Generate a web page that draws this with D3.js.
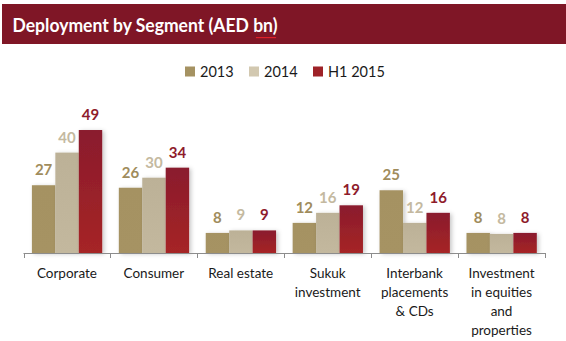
<!DOCTYPE html>
<html>
<head>
<meta charset="utf-8">
<script src="https://cdn.jsdelivr.net/npm/d3@7"></script>
<style>
  html, body { margin: 0; padding: 0; background: #fff; }
  svg { display: block; font-family: Lato, "Open Sans", sans-serif; }
</style>
</head>
<body>
<svg id="chart" width="566" height="341"></svg>
<script>
const title = "Deployment by Segment (AED bn)";
const categories = [
  ["Corporate"],
  ["Consumer"],
  ["Real estate"],
  ["Sukuk", "investment"],
  ["Interbank", "placements", "& CDs"],
  ["Investment", "in equities", "and", "properties"]
];
const seriesNames = ["2013", "2014", "H1 2015"];
const values2013 = [27, 26, 8, 12, 25, 8];
const values2014 = [40, 30, 9, 16, 12, 7.6];
const valuesH12015 = [49, 34, 9, 19, 16, 8];
const labels2013 = ["27", "26", "8", "12", "25", "8"];
const labels2014 = ["40", "30", "9", "16", "12", "8"];
const labelsH12015 = ["49", "34", "9", "19", "16", "8"];

const seriesValues = [values2013, values2014, valuesH12015];
const seriesLabels = [labels2013, labels2014, labelsH12015];
const labelColors = ["#a08c5c", "#c4b9a0", "#8e1b2b"];
const legendColors = ["#a59262", "#d2c8b0", "#9e2228"];

const svg = d3.select("#chart");
const defs = svg.append("defs");

const g0 = defs.append("linearGradient").attr("id", "grad0").attr("x1", 0).attr("y1", 0).attr("x2", 0).attr("y2", 1);
g0.append("stop").attr("offset", "0%").attr("stop-color", "#a59262");
g0.append("stop").attr("offset", "100%").attr("stop-color", "#a69363");
const g1 = defs.append("linearGradient").attr("id", "grad1").attr("x1", 0).attr("y1", 0).attr("x2", 0).attr("y2", 1);
g1.append("stop").attr("offset", "0%").attr("stop-color", "#bcb197");
g1.append("stop").attr("offset", "100%").attr("stop-color", "#c3b89e");
const g2 = defs.append("linearGradient").attr("id", "grad2").attr("x1", 0).attr("y1", 0).attr("x2", 0).attr("y2", 1);
g2.append("stop").attr("offset", "0%").attr("stop-color", "#8a1b2e");
g2.append("stop").attr("offset", "100%").attr("stop-color", "#a62525");
const fills = ["url(#grad0)", "url(#grad1)", "url(#grad2)"];

const shadow = defs.append("filter").attr("id", "shadow").attr("x", "-30%").attr("y", "-30%").attr("width", "160%").attr("height", "160%");
shadow.append("feDropShadow").attr("dx", 2).attr("dy", 1).attr("stdDeviation", 2)
  .attr("flood-color", "#000").attr("flood-opacity", 0.22);

// Title band
svg.append("rect").attr("x", 2).attr("y", 4).attr("width", 564).attr("height", 40).attr("fill", "#7f1626");
const titleText = svg.append("text").attr("x", 12.5).attr("y", 31.5)
  .attr("fill", "#fff").attr("font-weight", 700).attr("font-size", 18)
  .text(title);
titleText.attr("textLength", 265).attr("lengthAdjust", "spacingAndGlyphs");
// spell-check squiggle under "bn"
(function () {
  const x0 = 256, x1 = 276, yq = 37;
  let d = `M${x0},${yq}`;
  for (let x = x0; x < x1; x += 2) d += ` L${x + 1},${yq + 1.2} L${x + 2},${yq}`;
  svg.append("path").attr("d", d).attr("fill", "none").attr("stroke", "#e8222a").attr("stroke-width", 1);
})();

// Scales
const x = d3.scaleBand().domain(d3.range(categories.length)).range([23.5, 545]).padding(0);
const x1 = d3.scaleBand().domain(d3.range(seriesNames.length)).range([8.4, x.bandwidth() - 8.2]).padding(0);
const y = d3.scaleLinear().domain([0, 50]).range([253, 127.5]);

// Bars
const groups = svg.append("g").selectAll("g").data(categories).join("g")
  .attr("transform", (d, i) => `translate(${x(i)},0)`);

seriesNames.forEach((s, si) => {
  groups.append("rect")
    .attr("x", (d, i) => x1(si))
    .attr("y", (d, i) => y(seriesValues[si][i]))
    .attr("width", x1.bandwidth())
    .attr("height", (d, i) => y(0) - y(seriesValues[si][i]))
    .attr("fill", fills[si])
    .attr("filter", "url(#shadow)");
});
seriesNames.forEach((s, si) => {
  groups.append("text")
    .attr("x", (d, i) => x1(si) + x1.bandwidth() / 2)
    .attr("y", (d, i) => y(seriesValues[si][i]) - 10)
    .attr("text-anchor", "middle")
    .attr("font-weight", 700)
    .attr("font-size", 15)
    .attr("fill", labelColors[si])
    .text((d, i) => seriesLabels[si][i]);
});

// Axis
const axisG = svg.append("g").attr("transform", `translate(0,${y(0)})`);
axisG.append("line").attr("x1", x.range()[0]).attr("x2", x.range()[1]).attr("y1", 0.5).attr("y2", 0.5)
  .attr("stroke", "#8c8c8c").attr("stroke-width", 1);
const tickPositions = d3.range(categories.length).map(i => x(i)).concat([x.range()[1]]);
axisG.selectAll("line.tick").data(tickPositions).join("line").attr("class", "tick")
  .attr("x1", d => Math.round(d) + 0.5).attr("x2", d => Math.round(d) + 0.5)
  .attr("y1", 0).attr("y2", 5).attr("stroke", "#8c8c8c");

// Category labels
const catLabels = svg.append("g").selectAll("text").data(categories).join("text")
  .attr("x", (d, i) => x(i) + x.bandwidth() / 2)
  .attr("y", 277.5)
  .attr("text-anchor", "middle")
  .attr("font-size", 13.5)
  .attr("fill", "#1a1a1a");
catLabels.selectAll("tspan").data(d => d).join("tspan")
  .attr("x", function () { return d3.select(this.parentNode).attr("x"); })
  .attr("dy", (d, j) => j === 0 ? 0 : 19.2)
  .text(d => d);

// Legend
const legendX = [185, 249, 313];
const legend = svg.append("g").selectAll("g").data(seriesNames).join("g")
  .attr("transform", (d, i) => `translate(${legendX[i]},66.5)`);
legend.append("rect").attr("width", 10).attr("height", 10).attr("fill", (d, i) => legendColors[i]);
legend.append("text").attr("x", 15).attr("y", 10.5).attr("font-size", 14.5).attr("fill", "#1a1a1a").text(d => d);
</script>
</body>
</html>
